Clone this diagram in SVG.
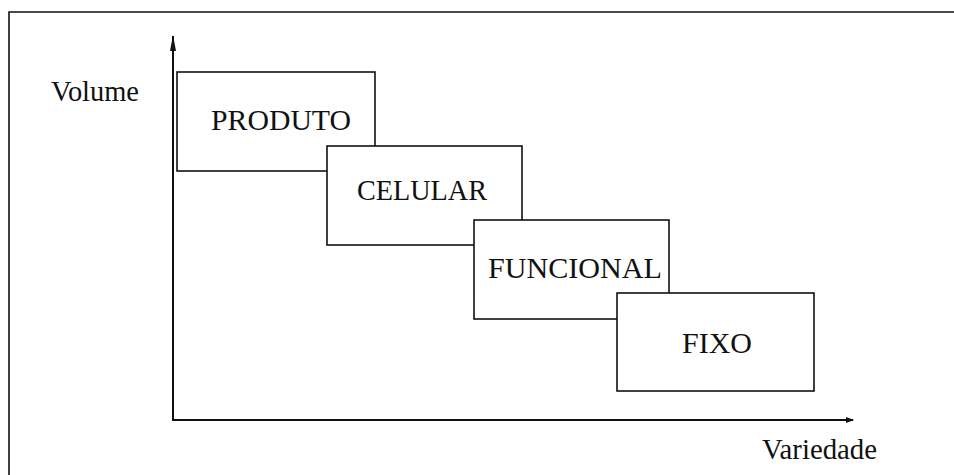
<svg xmlns="http://www.w3.org/2000/svg" width="954" height="475" viewBox="0 0 954 475">
<style>
.box{fill:#fff;stroke:#111;stroke-width:1.6}
.axis{stroke:#111;stroke-width:2;fill:none}
.frame{stroke:#111;stroke-width:1.6;fill:none}
text{font-family:"Liberation Serif","Times New Roman",serif;font-size:29px;fill:#111}
</style>
<defs>
<marker id="ah" markerWidth="8" markerHeight="6" refX="7" refY="3" orient="auto" markerUnits="userSpaceOnUse">
<path d="M0,0 L8,3 L0,6 Z" fill="#111"/>
</marker>
<marker id="ahv" markerWidth="16" markerHeight="8" refX="15" refY="4" orient="auto" markerUnits="userSpaceOnUse">
<path d="M0,1 L16,4 L0,7 Z" fill="#111"/>
</marker>
</defs>
<rect width="954" height="475" fill="#fff"/>
<path class="frame" d="M9,475 V12 H954"/>
<g id="connectors">
<line class="axis" x1="173" y1="421" x2="173" y2="36" marker-end="url(#ahv)"/>
<line class="axis" x1="173" y1="420" x2="853" y2="420" marker-end="url(#ah)"/>
</g>
<g id="volume-label"><text x="51" y="101" textLength="88" lengthAdjust="spacingAndGlyphs">Volume</text></g>
<g id="variedade-label"><text x="762" y="459" textLength="115" lengthAdjust="spacingAndGlyphs">Variedade</text></g>
<g id="produto"><rect class="box" x="177" y="72" width="198" height="99"/><text x="211" y="130" textLength="140" lengthAdjust="spacingAndGlyphs">PRODUTO</text></g>
<g id="celular"><rect class="box" x="327" y="146" width="195" height="99"/><text x="357" y="200" textLength="130" lengthAdjust="spacingAndGlyphs">CELULAR</text></g>
<g id="funcional"><rect class="box" x="474" y="220" width="195" height="99"/><text x="488" y="278" textLength="174" lengthAdjust="spacingAndGlyphs">FUNCIONAL</text></g>
<g id="fixo"><rect class="box" x="617" y="293" width="197" height="98"/><text x="682" y="353" textLength="70" lengthAdjust="spacingAndGlyphs">FIXO</text></g>
</svg>
